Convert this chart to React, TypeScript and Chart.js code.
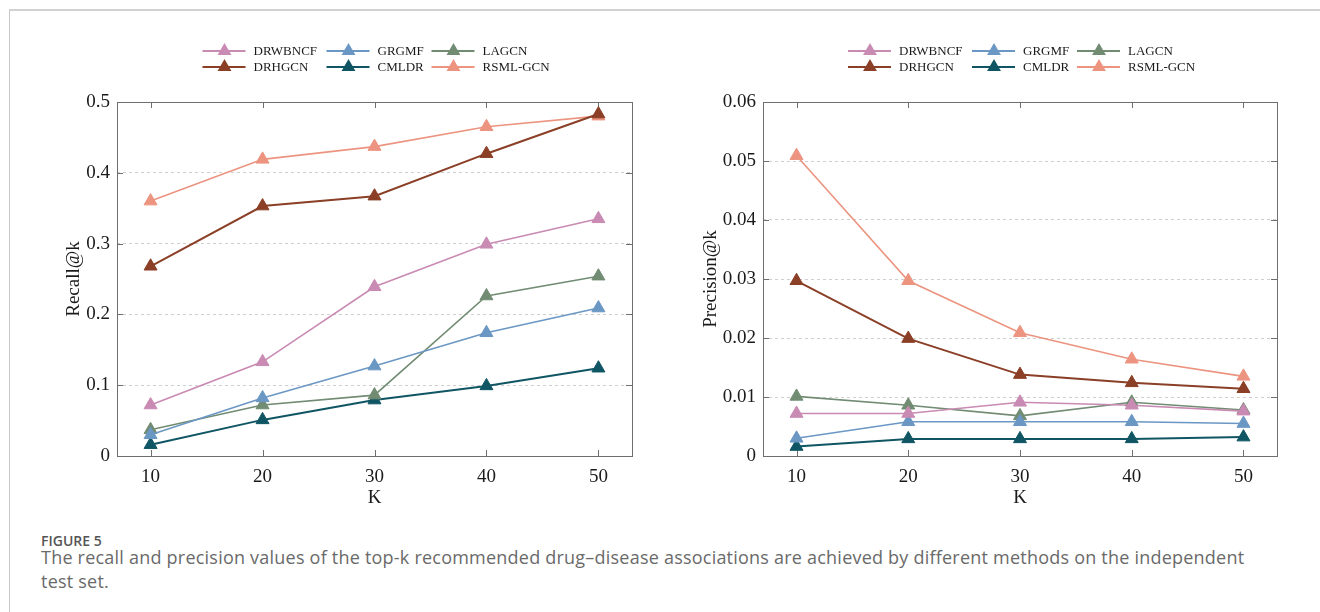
import React, { useEffect, useRef } from "react";
import { Chart, registerables } from "chart.js";

Chart.register(...registerables);

// ---------- data ----------
const kValues = [10, 20, 30, 40, 50];
const methodNames = ["DRWBNCF", "GRGMF", "LAGCN", "DRHGCN", "CMLDR", "RSML-GCN"];
const methodColors = ["#c98ab3", "#6b97c4", "#718c72", "#8a3f26", "#0f5563", "#ec9480"];
const methodLineWidths = [1.6, 1.6, 1.6, 2, 2, 1.6];

const recallDRWBNCF = [0.072, 0.133, 0.239, 0.299, 0.335];
const recallGRGMF = [0.03, 0.082, 0.127, 0.174, 0.209];
const recallLAGCN = [0.037, 0.072, 0.086, 0.226, 0.254];
const recallDRHGCN = [0.268, 0.353, 0.367, 0.427, 0.483];
const recallCMLDR = [0.016, 0.051, 0.079, 0.099, 0.124];
const recallRSMLGCN = [0.36, 0.419, 0.437, 0.465, 0.48];

const precisionDRWBNCF = [0.0072, 0.0072, 0.0091, 0.0086, 0.0076];
const precisionGRGMF = [0.003, 0.0058, 0.0058, 0.0058, 0.0055];
const precisionLAGCN = [0.0101, 0.0086, 0.0068, 0.0091, 0.0078];
const precisionDRHGCN = [0.0297, 0.0199, 0.0138, 0.0124, 0.0114];
const precisionCMLDR = [0.0016, 0.0029, 0.0029, 0.0029, 0.0032];
const precisionRSMLGCN = [0.0509, 0.0297, 0.0209, 0.0164, 0.0135];

const recallSeries = [recallDRWBNCF, recallGRGMF, recallLAGCN, recallDRHGCN, recallCMLDR, recallRSMLGCN];
const precisionSeries = [
  precisionDRWBNCF,
  precisionGRGMF,
  precisionLAGCN,
  precisionDRHGCN,
  precisionCMLDR,
  precisionRSMLGCN,
];

const recallTicks = [0, 0.1, 0.2, 0.3, 0.4, 0.5];
const precisionTicks = [0, 0.01, 0.02, 0.03, 0.04, 0.05, 0.06];

const SERIF = "'Liberation Serif', 'Times New Roman', serif";

// ---------- plugins ----------
const framePlugin = {
  id: "frame",
  beforeDatasetsDraw(chart: any) {
    const { ctx, chartArea } = chart;
    const { left, right, top, bottom } = chartArea;
    const xs = chart.scales.x;
    const ys = chart.scales.y;
    ctx.save();
    ctx.strokeStyle = "#6f6f6f";
    ctx.lineWidth = 1;
    ctx.strokeRect(Math.round(left) + 0.5, Math.round(top) + 0.5, Math.round(right - left), Math.round(bottom - top));
    const tl = 6;
    ctx.beginPath();
    xs.ticks.forEach((t: any) => {
      const px = Math.round(xs.getPixelForValue(t.value)) + 0.5;
      ctx.moveTo(px, top);
      ctx.lineTo(px, top + tl);
      ctx.moveTo(px, bottom);
      ctx.lineTo(px, bottom - tl);
    });
    ys.ticks.forEach((t: any) => {
      const py = Math.round(ys.getPixelForValue(t.value)) + 0.5;
      ctx.moveTo(left, py);
      ctx.lineTo(left + tl, py);
      ctx.moveTo(right, py);
      ctx.lineTo(right - tl, py);
    });
    ctx.stroke();
    ctx.restore();
  },
};

function drawTriangle(ctx: CanvasRenderingContext2D, x: number, y: number, r: number, color: string) {
  ctx.beginPath();
  ctx.moveTo(x, y - r);
  ctx.lineTo(x + r * Math.sin((2 * Math.PI) / 3), y - r * Math.cos((2 * Math.PI) / 3));
  ctx.lineTo(x + r * Math.sin((4 * Math.PI) / 3), y - r * Math.cos((4 * Math.PI) / 3));
  ctx.closePath();
  ctx.fillStyle = color;
  ctx.fill();
}

const legendOffsets = [-172, -48, 57];

const legendPlugin = {
  id: "customLegend",
  afterDraw(chart: any) {
    const { ctx, chartArea } = chart;
    const cx = (chartArea.left + chartArea.right) / 2;
    const rowsY = [chartArea.top - 51, chartArea.top - 35];
    ctx.save();
    ctx.font = `13px ${SERIF}`;
    ctx.textBaseline = "middle";
    ctx.textAlign = "left";
    chart.data.datasets.forEach((ds: any, i: number) => {
      const col = i % 3;
      const row = Math.floor(i / 3);
      const x0 = cx + legendOffsets[col];
      const y = rowsY[row];
      ctx.strokeStyle = ds.borderColor;
      ctx.lineWidth = 2;
      ctx.beginPath();
      ctx.moveTo(x0, y);
      ctx.lineTo(x0 + 43, y);
      ctx.stroke();
      drawTriangle(ctx, x0 + 22, y, 8, ds.borderColor);
      ctx.fillStyle = "#1a1a1a";
      ctx.fillText(ds.label, x0 + 51, y + 1);
    });
    ctx.restore();
  },
};

// ---------- chart component ----------
type PanelProps = {
  left: number;
  series: number[][];
  yTicks: number[];
  yTitle: string;
  yAxisWidth: number;
  yTitlePad: number;
  rightPad: number;
};

function Panel({ left, series, yTicks, yTitle, yAxisWidth, yTitlePad, rightPad }: PanelProps) {
  const ref = useRef<HTMLCanvasElement | null>(null);
  useEffect(() => {
    if (!ref.current) return;
    const yMax = yTicks[yTicks.length - 1];
    const chart = new Chart(ref.current, {
      type: "line",
      data: {
        datasets: methodNames.map((name, i) => ({
          label: name,
          data: kValues.map((k, j) => ({ x: k, y: series[i][j] })),
          borderColor: methodColors[i],
          backgroundColor: methodColors[i],
          pointBackgroundColor: methodColors[i],
          pointBorderColor: methodColors[i],
          pointBorderWidth: 1,
          borderWidth: methodLineWidths[i],
          pointStyle: "triangle",
          pointRadius: 7.5,
          tension: 0,
          fill: false,
        })),
      },
      options: {
        animation: false,
        responsive: false,
        maintainAspectRatio: false,
        layout: { padding: { top: 72, right: rightPad, left: 0, bottom: 0 } },
        plugins: {
          legend: { display: false },
          tooltip: { enabled: false },
        },
        scales: {
          x: {
            type: "linear",
            min: 7,
            max: 53,
            afterBuildTicks: (scale: any) => {
              scale.ticks = kValues.map((v) => ({ value: v }));
            },
            afterFit: (scale: any) => {
              scale.height = 54;
            },
            grid: { display: false, drawTicks: false },
            border: { display: false },
            ticks: {
              color: "#1a1a1a",
              font: { family: SERIF, size: 19 },
              padding: 10,
              maxRotation: 0,
            },
            title: {
              display: true,
              text: "K",
              color: "#1a1a1a",
              font: { family: SERIF, size: 19 },
              padding: { top: 0, bottom: 1 },
            },
          },
          y: {
            type: "linear",
            min: 0,
            max: yMax,
            afterBuildTicks: (scale: any) => {
              scale.ticks = yTicks.map((v) => ({ value: v }));
            },
            afterFit: (scale: any) => {
              scale.width = yAxisWidth;
            },
            grid: {
              drawTicks: false,
              lineWidth: 1,
              color: (c: any) =>
                c.tick && (c.tick.value === 0 || c.tick.value === yMax) ? "rgba(0,0,0,0)" : "#cfcfcf",
            },
            border: { display: false, dash: [3, 3] },
            ticks: {
              color: "#1a1a1a",
              font: { family: SERIF, size: 19 },
              padding: 7,
              callback: (v: any) => String(Number(v)),
            },
            title: {
              display: true,
              text: yTitle,
              color: "#1a1a1a",
              font: { family: SERIF, size: 19 },
              padding: { top: yTitlePad, bottom: 0 },
            },
          },
        },
      },
      plugins: [framePlugin, legendPlugin],
    } as any);
    return () => chart.destroy();
  }, []);
  return (
    <canvas
      ref={ref}
      width={640}
      height={480}
      style={{ position: "absolute", left, top: 30, width: 640, height: 480 }}
    />
  );
}

export default function App() {
  return (
    <div
      style={{
        position: "absolute",
        left: 0,
        top: 0,
        width: 1320,
        height: 612,
        background: "#ffffff",
        overflow: "hidden",
      }}
    >
      <div
        style={{
          position: "absolute",
          left: 9,
          top: 9,
          width: 1320,
          height: 620,
          borderTop: "2px solid #d2d2d2",
          borderLeft: "1px solid #c8c8c8",
        }}
      />
      <Panel
        left={20}
        series={recallSeries}
        yTicks={recallTicks}
        yTitle="Recall@k"
        yAxisWidth={97}
        yTitlePad={43}
        rightPad={28}
      />
      <Panel
        left={660}
        series={precisionSeries}
        yTicks={precisionTicks}
        yTitle="Precision@k"
        yAxisWidth={103}
        yTitlePad={40}
        rightPad={23}
      />
      <div
        style={{
          position: "absolute",
          left: 41,
          top: 532,
          fontFamily: "'Open Sans', sans-serif",
          fontWeight: 600,
          fontSize: 14,
          lineHeight: "18px",
          color: "#555555",
        }}
      >
        FIGURE 5
      </div>
      <div
        style={{
          position: "absolute",
          left: 41,
          top: 545,
          width: 1270,
          fontFamily: "'Open Sans', sans-serif",
          fontSize: 18,
          letterSpacing: "0.22px",
          lineHeight: "24px",
          color: "#6a6a6a",
          whiteSpace: "nowrap",
        }}
      >
        The recall and precision values of the top-k recommended drug–disease associations are achieved by different
        methods on the independent
        <br />
        test set.
      </div>
    </div>
  );
}
